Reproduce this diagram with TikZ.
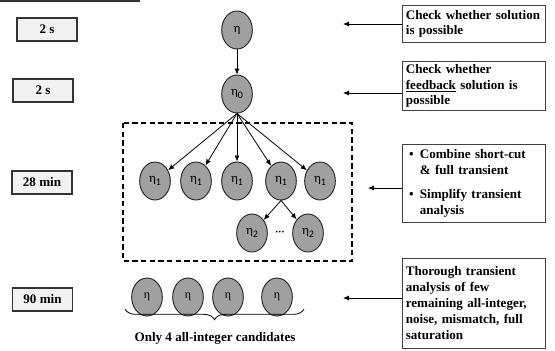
\documentclass[tikz,border=0pt]{standalone}
\usepackage{fontspec}
\setmainfont{Liberation Serif}
\newfontfamily\calibri{Carlito}
\usetikzlibrary{arrows.meta}
\usetikzlibrary{shapes.geometric}
\usetikzlibrary{decorations.pathreplacing}

% no hyphens in the note boxes
\hyphenpenalty=10000

% eta with a lowered index, as in the solver tree
\newcommand{\etaidx}[1]{η\raisebox{-0.45ex}{\fontsize{7.5}{7.5}\selectfont #1}}

\begin{document}
\begin{tikzpicture}[x=0.75pt,y=0.75pt,yscale=-1,
    timebox/.style={draw={rgb, 255:red, 51; green, 51; blue, 51 },fill={rgb, 255:red, 242; green, 242; blue, 242 },line width=0.8pt,
        minimum width=45pt,minimum height=17.25pt,inner sep=0pt,font=\fontsize{9.8}{11}\selectfont\bfseries},
    etanode/.style={ellipse,draw={rgb, 255:red, 38; green, 38; blue, 38 },fill={rgb, 255:red, 160; green, 160; blue, 160 },line width=0.7pt,
        minimum width=23pt,minimum height=28.5pt,inner sep=0pt,font=\calibri\fontsize{9.5}{9.5}\selectfont},
    notebox/.style={draw={rgb, 255:red, 64; green, 64; blue, 64 },fill=white,line width=0.8pt,anchor=north west,
        text width=102pt,inner xsep=2.5pt,inner ysep=2pt,align=left,
        font=\fontsize{9.8}{11.5}\selectfont\bfseries},
    arr/.style={-{Latex[length=4.5pt,width=3.8pt]},line width=0.6pt}
  ]
  \useasboundingbox (0,0) rectangle (555,350);

  %Straight Lines: edge of the block above
  \draw [color={rgb, 255:red, 51; green, 51; blue, 51 },line width=0.9pt] (0,1) -- (140,1) ;

  %Time boxes
  \node [timebox] (t1) at (47,29.5) {2 s};
  \node [timebox] (t2) at (43,90.5) {2 s};
  \node [timebox] (t3) at (42,182.5) {28 min};
  \node [timebox] (t4) at (42.5,299.5) {90 min};

  %Tree of eta nodes
  \node [etanode] (eta) at (237,30) {η};
  \node [etanode] (eta0) at (237,94) {\etaidx{0}};
  \node [etanode] (eta1a) at (155,181) {\etaidx{1}};
  \node [etanode] (eta1b) at (196,181) {\etaidx{1}};
  \node [etanode] (eta1c) at (237,181) {\etaidx{1}};
  \node [etanode] (eta1d) at (281,181) {\etaidx{1}};
  \node [etanode] (eta1e) at (320,181) {\etaidx{1}};
  \node [etanode] (eta2a) at (252,233) {\etaidx{2}};
  \node [etanode] (eta2b) at (308,233) {\etaidx{2}};
  \node [font=\calibri\fontsize{9}{9}\selectfont] (dots) at (280,233) {···};

  \draw [arr] (eta) -- (eta0) ;
  \foreach \k in {a,b,c,d,e}
    \draw [arr] (eta0.south) -- (eta1\k) ;
  \draw [arr] (eta1d.south) -- (eta2a) ;
  \draw [arr] (eta1d.south) -- (eta2b) ;

  %Dashed frame round the first level
  \draw [dashed,line width=0.8pt,dash pattern={on 4pt off 2.5pt}] (123,123) rectangle (352,261) ;

  %Remaining candidates
  \foreach \n/\xx in {1/147,2/188,3/228,4/277}
    \node [etanode,font=\fontsize{9}{9}\selectfont] (cand\n) at (\xx,297) {η};
  \coordinate (br1) at (125,309) ;
  \coordinate (br2) at (304,309) ;
  \draw [decorate,decoration={brace,mirror,amplitude=8pt},line width=0.6pt] (br1) -- (br2) ;
  \node [font=\fontsize{9.8}{11}\selectfont\bfseries] (candtxt) at (215,338) {Only 4 all-integer candidates};

  %Notes on the right
  \node [notebox,minimum height=27.75pt] (n1) at (402,5) {Check whether solution\\is possible};
  \node [notebox,minimum height=36.75pt] (n2) at (402,61) {Check whether\\\underline{feedback} solution is\\possible};
  \node [notebox,minimum height=58.5pt] (n3) at (402,144) {%
    \begin{tabular}{@{}p{10.5pt}@{}l@{}}
      \hspace{2.5pt}\textbullet & Combine short-cut\\
                  & \& full transient\\[7pt]
      \hspace{2.5pt}\textbullet & Simplify transient\\
                  & analysis
    \end{tabular}};
  \node [notebox,minimum height=67.5pt,font=\fontsize{9.8}{12}\selectfont\bfseries] (n4) at (402,258) {Thorough transient\\analysis of few\\remaining all-integer,\\noise, mismatch, full\\saturation};

  \coordinate (p1) at (343,24) ;
  \coordinate (p2) at (343,93) ;
  \coordinate (p3) at (368,188) ;
  \coordinate (p4) at (343,298) ;
  \draw [arr] (n1.west |- p1) -- (p1) ;
  \draw [arr] (n2.west |- p2) -- (p2) ;
  \draw [arr] (n3.west |- p3) -- (p3) ;
  \draw [arr] (n4.west |- p4) -- (p4) ;
\end{tikzpicture}
\end{document}
